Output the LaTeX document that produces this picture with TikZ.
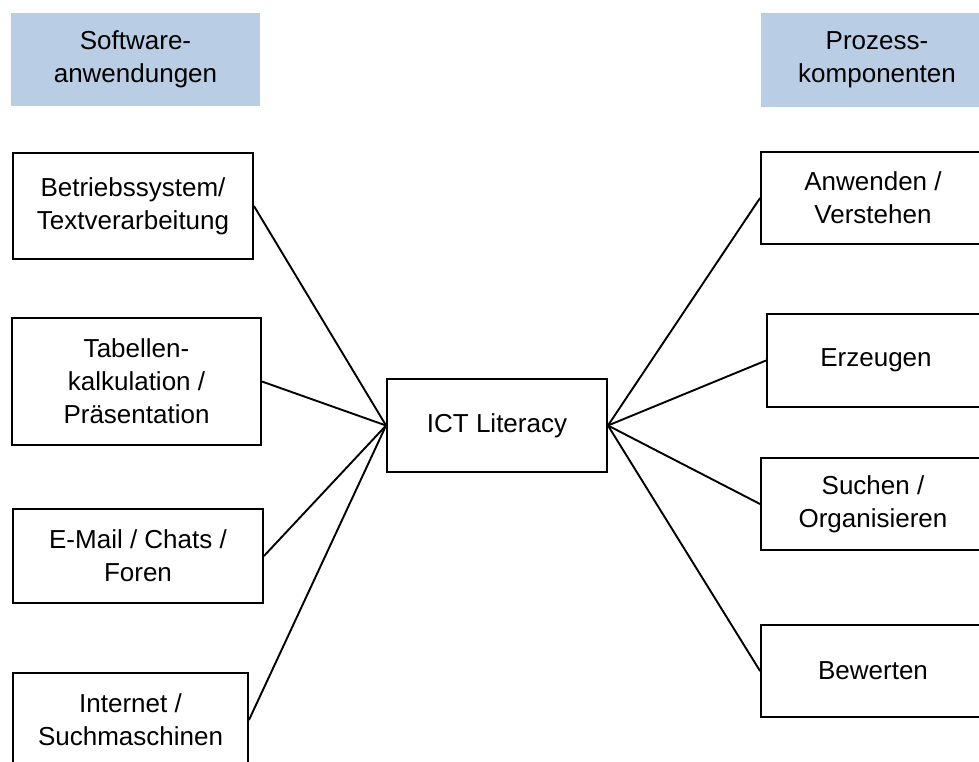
\documentclass[tikz,border=0pt]{standalone}
\usepackage{fontspec}
\setmainfont{Liberation Sans}
\definecolor{hdrblue}{RGB}{185,205,229}
\begin{document}
\begin{tikzpicture}[x=1pt,y=-1pt,
  every node/.style={font=\fontsize{26}{33}\selectfont, align=center, inner sep=0pt},
  hdr/.style={fill=hdrblue, draw=none, minimum width=#1},
  box/.style={draw=black, line width=1.9pt, fill=white},
  conn/.style={draw=black, line width=1.9pt}]
\useasboundingbox (0,0) rectangle (979,761);
\clip (0,0) rectangle (979,761);
% headers
\node[hdr=249pt, minimum height=93pt] (hdrL) at (135.5,59.5) {Software-\\anwendungen};
\node[hdr=232pt, minimum height=94pt] (hdrR) at (877,60) {Prozess-\\komponenten};
% left boxes
\node[box, minimum width=240pt, minimum height=106pt] (betr) at (133,206) {Betriebssystem/\\Textverarbeitung};
\node[box, minimum width=249pt, minimum height=127pt] (tab) at (136.5,381.5) {Tabellen-\\kalkulation /\\Präsentation};
\node[box, minimum width=250pt, minimum height=94pt] (mail) at (138,556) {E-Mail / Chats /\\Foren};
\node[box, minimum width=235pt, minimum height=94pt] (inet) at (130.5,720) {Internet /\\Suchmaschinen};
% center
\node[box, minimum width=220pt, minimum height=93pt] (ict) at (497,425.5) {ICT Literacy};
% right boxes
\node[box, minimum width=224pt, minimum height=92pt] (anw) at (873,198) {Anwenden /\\Verstehen};
\node[box, minimum width=218pt, minimum height=93pt] (erz) at (876,360.5) {Erzeugen};
\node[box, minimum width=224pt, minimum height=92pt] (such) at (873,504) {Suchen /\\Organisieren};
\node[box, minimum width=224pt, minimum height=92pt] (bew) at (873,671) {Bewerten};
% connectors
\draw[conn] (betr.east) -- (ict.west);
\draw[conn] (tab.east) -- (ict.west);
\draw[conn] (mail.east) -- (ict.west);
\draw[conn] (inet.east) -- (ict.west);
\draw[conn] (anw.west) -- (ict.east);
\draw[conn] (erz.west) -- (ict.east);
\draw[conn] (such.west) -- (ict.east);
\draw[conn] (bew.west) -- (ict.east);
\end{tikzpicture}
\end{document}
